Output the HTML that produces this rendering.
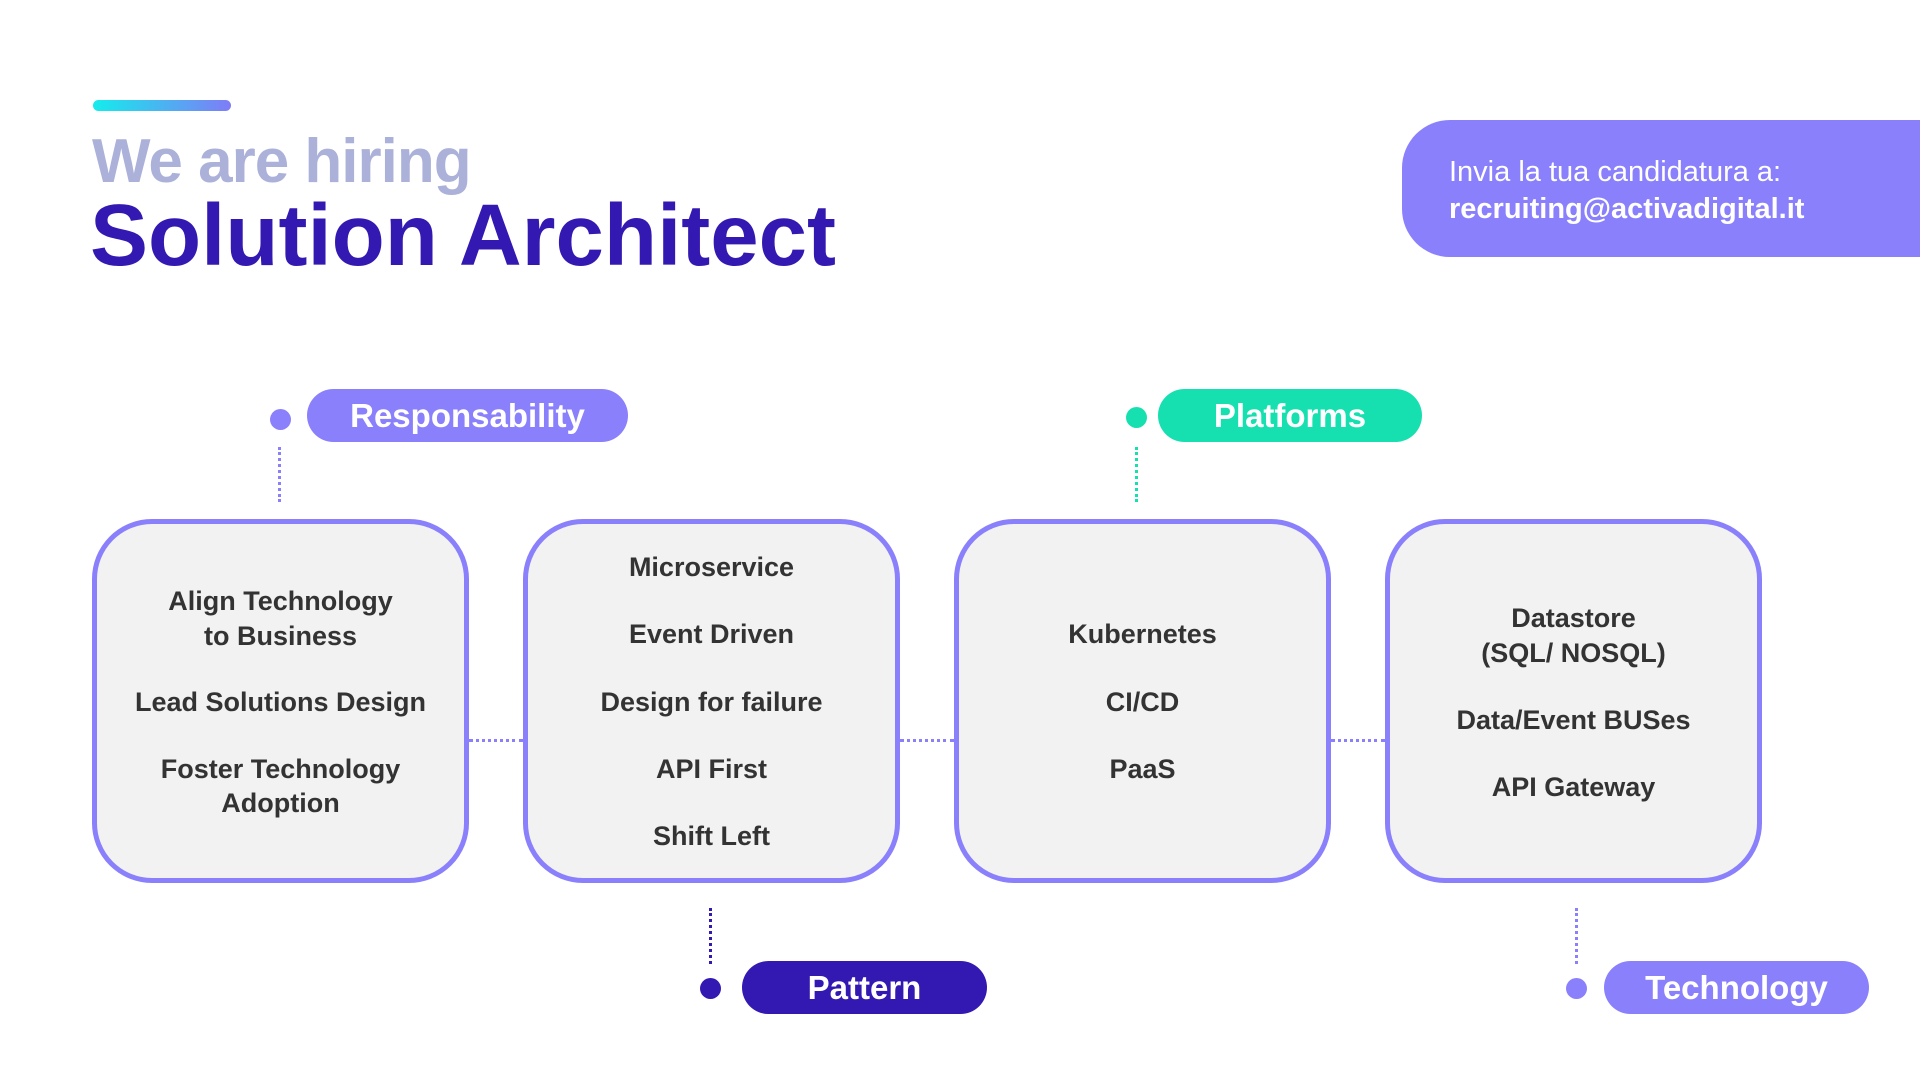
<!DOCTYPE html>
<html><head><meta charset="utf-8"><style>
*{margin:0;padding:0;box-sizing:border-box}
body{width:1920px;height:1080px;background:#fff;position:relative;overflow:hidden;font-family:"Liberation Sans",sans-serif}
.a{position:absolute}
.bar{left:93px;top:100px;width:138px;height:11px;border-radius:6px;background:linear-gradient(90deg,#14ecec,#7f7cf7)}
.h1{left:92px;top:122px;font-size:62px;font-weight:bold;color:#abb1d9;letter-spacing:-1px;line-height:80px}
.h2{left:90px;top:186px;font-size:87px;font-weight:bold;color:#3418b2;letter-spacing:0px;line-height:100px}
.mail{left:1402px;top:120px;width:518px;height:137px;background:#8a80fc;border-radius:48px 0 0 48px;color:#fff;padding:34px 0 0 47px;font-size:29px;line-height:37px}
.pill{height:53px;border-radius:27px;color:#fff;font-weight:bold;font-size:33px;line-height:53px;text-align:center}
.dot{width:21px;height:21px;border-radius:50%}
.vl{width:0;border-left:3px dotted}
.box{top:519px;width:377px;height:364px;border:5px solid #8a80fc;border-radius:60px;background:#f2f2f2}
.t{width:377px;text-align:center;font-size:27px;line-height:34px;color:#333;font-weight:bold;transform:translateY(-17px)}
.hl{top:739px;height:0;border-top:3px dotted #8a80fc}
</style></head><body>
<div class="a bar"></div>
<div class="a h1">We are hiring</div>
<div class="a h2">Solution Architect</div>
<div class="a mail">Invia la tua candidatura a:<br><b>recruiting@activadigital.it</b></div>

<div class="a dot" style="left:270px;top:409px;background:#8a80fc"></div>
<div class="a pill" style="left:307px;top:389px;width:321px;background:#8a80fc">Responsability</div>
<div class="a vl" style="left:278px;top:447px;height:55px;border-color:#8a80fc"></div>

<div class="a dot" style="left:1126px;top:407px;background:#17e0b0"></div>
<div class="a pill" style="left:1158px;top:389px;width:264px;background:#17e0b0">Platforms</div>
<div class="a vl" style="left:1135px;top:447px;height:55px;border-color:#17e0b0"></div>

<div class="a box" style="left:92px"></div>
<div class="a box" style="left:523px"></div>
<div class="a box" style="left:954px"></div>
<div class="a box" style="left:1385px"></div>
<div class="a hl" style="left:469px;width:54px"></div>
<div class="a hl" style="left:900px;width:54px"></div>
<div class="a hl" style="left:1331px;width:54px"></div>

<div class="a t" style="left:92px;top:601px">Align Technology</div>
<div class="a t" style="left:92px;top:636px">to Business</div>
<div class="a t" style="left:92px;top:702px">Lead Solutions Design</div>
<div class="a t" style="left:92px;top:769px">Foster Technology</div>
<div class="a t" style="left:92px;top:803px">Adoption</div>

<div class="a t" style="left:523px;top:567px">Microservice</div>
<div class="a t" style="left:523px;top:634px">Event Driven</div>
<div class="a t" style="left:523px;top:702px">Design for failure</div>
<div class="a t" style="left:523px;top:769px">API First</div>
<div class="a t" style="left:523px;top:836px">Shift Left</div>

<div class="a t" style="left:954px;top:634px">Kubernetes</div>
<div class="a t" style="left:954px;top:702px">CI/CD</div>
<div class="a t" style="left:954px;top:769px">PaaS</div>

<div class="a t" style="left:1385px;top:618px">Datastore</div>
<div class="a t" style="left:1385px;top:653px">(SQL/ NOSQL)</div>
<div class="a t" style="left:1385px;top:720px">Data/Event BUSes</div>
<div class="a t" style="left:1385px;top:787px">API Gateway</div>

<div class="a vl" style="left:709px;top:908px;height:56px;border-color:#3418b2"></div>
<div class="a dot" style="left:700px;top:978px;background:#3418b2"></div>
<div class="a pill" style="left:742px;top:961px;width:245px;background:#3418b2">Pattern</div>

<div class="a vl" style="left:1575px;top:908px;height:56px;border-color:#8a80fc"></div>
<div class="a dot" style="left:1566px;top:978px;background:#8a80fc"></div>
<div class="a pill" style="left:1604px;top:961px;width:265px;background:#8a80fc">Technology</div>
</body></html>
